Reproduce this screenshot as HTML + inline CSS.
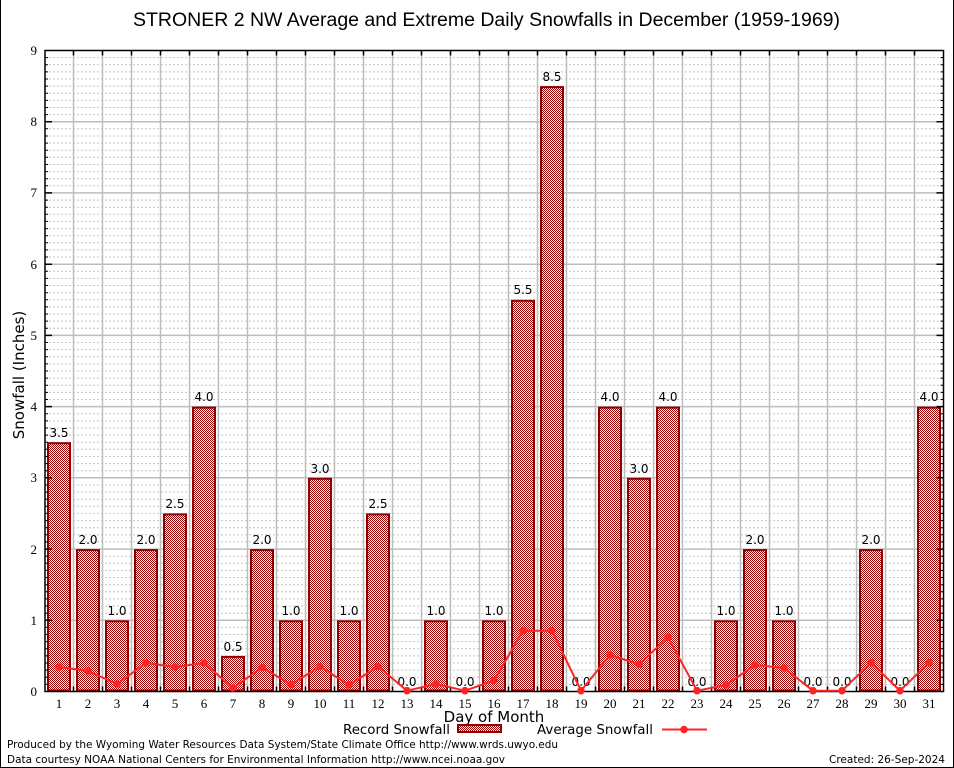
<!DOCTYPE html>
<html>
<head>
<meta charset="utf-8">
<style>
html,body{margin:0;padding:0;background:#fff;}
svg{display:block;}
.tk{font-family:"Liberation Serif",serif;font-size:13px;fill:#000;}
.vl{font-family:"DejaVu Sans","Liberation Sans",sans-serif;font-size:12px;fill:#000;text-anchor:middle;}
.sn{font-family:"DejaVu Sans","Liberation Sans",sans-serif;fill:#000;}
</style>
</head>
<body>
<svg width="954" height="768" viewBox="0 0 954 768" xmlns="http://www.w3.org/2000/svg">
<defs>
<pattern id="chk" width="2" height="2" patternUnits="userSpaceOnUse">
<rect width="2" height="2" fill="#ffffff"/>
<rect x="0" y="0" width="1" height="1" fill="#9c0000"/>
<rect x="1" y="1" width="1" height="1" fill="#9c0000"/>
</pattern>
</defs>
<rect width="954" height="768" fill="#fff"/>
<path d="M0.5 0 V767.5 H953.5 V0" fill="none" stroke="#000" stroke-width="1"/>

<text x="133" y="26" font-family="Liberation Sans, sans-serif" font-size="19" textLength="707" lengthAdjust="spacingAndGlyphs">STRONER 2 NW Average and Extreme Daily Snowfalls in December (1959-1969)</text>

<path fill="none" stroke="#c4c4c4" stroke-width="1" stroke-dasharray="2,2" d="
M45 684.4H943 M45 677.3H943 M45 670.1H943 M45 663.0H943 M45 655.9H943 M45 648.8H943 M45 641.6H943 M45 634.5H943 M45 627.4H943
M45 613.2H943 M45 606.0H943 M45 598.9H943 M45 591.8H943 M45 584.7H943 M45 577.5H943 M45 570.4H943 M45 563.3H943 M45 556.2H943
M45 541.9H943 M45 534.8H943 M45 527.7H943 M45 520.6H943 M45 513.4H943 M45 506.3H943 M45 499.2H943 M45 492.1H943 M45 485.0H943
M45 470.7H943 M45 463.6H943 M45 456.5H943 M45 449.3H943 M45 442.2H943 M45 435.1H943 M45 428.0H943 M45 420.9H943 M45 413.7H943
M45 399.5H943 M45 392.4H943 M45 385.2H943 M45 378.1H943 M45 371.0H943 M45 363.9H943 M45 356.8H943 M45 349.6H943 M45 342.5H943
M45 328.3H943 M45 321.1H943 M45 314.0H943 M45 306.9H943 M45 299.8H943 M45 292.7H943 M45 285.5H943 M45 278.4H943 M45 271.3H943
M45 257.0H943 M45 249.9H943 M45 242.8H943 M45 235.7H943 M45 228.6H943 M45 221.4H943 M45 214.3H943 M45 207.2H943 M45 200.1H943
M45 185.8H943 M45 178.7H943 M45 171.6H943 M45 164.5H943 M45 157.3H943 M45 150.2H943 M45 143.1H943 M45 136.0H943 M45 128.8H943
M45 114.6H943 M45 107.5H943 M45 100.4H943 M45 93.2H943 M45 86.1H943 M45 79.0H943 M45 71.9H943 M45 64.7H943 M45 57.6H943"/>

<path fill="none" stroke="#bdbdbd" stroke-width="1.5" d="
M45 620.3H943 M45 549.1H943 M45 477.8H943 M45 406.6H943 M45 335.4H943 M45 264.2H943 M45 192.9H943 M45 121.7H943"/>

<path fill="none" stroke="#bdbdbd" stroke-width="1.5" d="
M73.5 50.5V691.5 M102.5 50.5V691.5 M131.5 50.5V691.5 M160.5 50.5V691.5 M189.5 50.5V691.5 M218.5 50.5V691.5
M247.5 50.5V691.5 M276.5 50.5V691.5 M305.5 50.5V691.5 M334.5 50.5V691.5 M363.5 50.5V691.5 M392.5 50.5V691.5
M421.5 50.5V691.5 M450.5 50.5V691.5 M479.5 50.5V691.5 M508.5 50.5V691.5 M537.5 50.5V691.5 M566.5 50.5V691.5
M595.5 50.5V691.5 M624.5 50.5V691.5 M653.5 50.5V691.5 M682.5 50.5V691.5 M711.5 50.5V691.5 M740.5 50.5V691.5
M769.5 50.5V691.5 M798.5 50.5V691.5 M827.5 50.5V691.5 M856.5 50.5V691.5 M885.5 50.5V691.5 M914.5 50.5V691.5"/>

<g fill="url(#chk)" stroke="#900000" stroke-width="2">
<rect x="48" y="443.2" width="22" height="247.3"/>
<rect x="77" y="550.1" width="22" height="140.4"/>
<rect x="106" y="621.3" width="22" height="69.2"/>
<rect x="135" y="550.1" width="22" height="140.4"/>
<rect x="164" y="514.4" width="22" height="176.1"/>
<rect x="193" y="407.6" width="22" height="282.9"/>
<rect x="222" y="656.9" width="22" height="33.6"/>
<rect x="251" y="550.1" width="22" height="140.4"/>
<rect x="280" y="621.3" width="22" height="69.2"/>
<rect x="309" y="478.8" width="22" height="211.7"/>
<rect x="338" y="621.3" width="22" height="69.2"/>
<rect x="367" y="514.4" width="22" height="176.1"/>
<rect x="425" y="621.3" width="22" height="69.2"/>
<rect x="483" y="621.3" width="22" height="69.2"/>
<rect x="512" y="300.8" width="22" height="389.7"/>
<rect x="541" y="87.1" width="22" height="603.4"/>
<rect x="599" y="407.6" width="22" height="282.9"/>
<rect x="628" y="478.8" width="22" height="211.7"/>
<rect x="657" y="407.6" width="22" height="282.9"/>
<rect x="715" y="621.3" width="22" height="69.2"/>
<rect x="744" y="550.1" width="22" height="140.4"/>
<rect x="773" y="621.3" width="22" height="69.2"/>
<rect x="860" y="550.1" width="22" height="140.4"/>
<rect x="918" y="407.6" width="22" height="282.9"/>
</g>

<g class="vl">
<text x="59" y="437">3.5</text>
<text x="88" y="544">2.0</text>
<text x="117" y="615">1.0</text>
<text x="146" y="544">2.0</text>
<text x="175" y="508">2.5</text>
<text x="204" y="401">4.0</text>
<text x="233" y="651">0.5</text>
<text x="262" y="544">2.0</text>
<text x="291" y="615">1.0</text>
<text x="320" y="473">3.0</text>
<text x="349" y="615">1.0</text>
<text x="378" y="508">2.5</text>
<text x="407" y="686">0.0</text>
<text x="436" y="615">1.0</text>
<text x="465" y="686">0.0</text>
<text x="494" y="615">1.0</text>
<text x="523" y="294">5.5</text>
<text x="552" y="81">8.5</text>
<text x="581" y="686">0.0</text>
<text x="610" y="401">4.0</text>
<text x="639" y="473">3.0</text>
<text x="668" y="401">4.0</text>
<text x="697" y="686">0.0</text>
<text x="726" y="615">1.0</text>
<text x="755" y="544">2.0</text>
<text x="784" y="615">1.0</text>
<text x="813" y="686">0.0</text>
<text x="842" y="686">0.0</text>
<text x="871" y="544">2.0</text>
<text x="900" y="686">0.0</text>
<text x="929" y="401">4.0</text>
</g>

<rect x="45" y="50.5" width="898.5" height="641" fill="none" stroke="#000" stroke-width="1.5"/>

<path fill="none" stroke="#000" stroke-width="1" d="
M45 684.4h3 M45 677.3h3 M45 670.1h3 M45 663.0h3 M45 655.9h3 M45 648.8h3 M45 641.6h3 M45 634.5h3 M45 627.4h3
M45 613.2h3 M45 606.0h3 M45 598.9h3 M45 591.8h3 M45 584.7h3 M45 577.5h3 M45 570.4h3 M45 563.3h3 M45 556.2h3
M45 541.9h3 M45 534.8h3 M45 527.7h3 M45 520.6h3 M45 513.4h3 M45 506.3h3 M45 499.2h3 M45 492.1h3 M45 485.0h3
M45 470.7h3 M45 463.6h3 M45 456.5h3 M45 449.3h3 M45 442.2h3 M45 435.1h3 M45 428.0h3 M45 420.9h3 M45 413.7h3
M45 399.5h3 M45 392.4h3 M45 385.2h3 M45 378.1h3 M45 371.0h3 M45 363.9h3 M45 356.8h3 M45 349.6h3 M45 342.5h3
M45 328.3h3 M45 321.1h3 M45 314.0h3 M45 306.9h3 M45 299.8h3 M45 292.7h3 M45 285.5h3 M45 278.4h3 M45 271.3h3
M45 257.0h3 M45 249.9h3 M45 242.8h3 M45 235.7h3 M45 228.6h3 M45 221.4h3 M45 214.3h3 M45 207.2h3 M45 200.1h3
M45 185.8h3 M45 178.7h3 M45 171.6h3 M45 164.5h3 M45 157.3h3 M45 150.2h3 M45 143.1h3 M45 136.0h3 M45 128.8h3
M45 114.6h3 M45 107.5h3 M45 100.4h3 M45 93.2h3 M45 86.1h3 M45 79.0h3 M45 71.9h3 M45 64.7h3 M45 57.6h3
M943.5 684.4h-3 M943.5 677.3h-3 M943.5 670.1h-3 M943.5 663.0h-3 M943.5 655.9h-3 M943.5 648.8h-3 M943.5 641.6h-3 M943.5 634.5h-3 M943.5 627.4h-3
M943.5 613.2h-3 M943.5 606.0h-3 M943.5 598.9h-3 M943.5 591.8h-3 M943.5 584.7h-3 M943.5 577.5h-3 M943.5 570.4h-3 M943.5 563.3h-3 M943.5 556.2h-3
M943.5 541.9h-3 M943.5 534.8h-3 M943.5 527.7h-3 M943.5 520.6h-3 M943.5 513.4h-3 M943.5 506.3h-3 M943.5 499.2h-3 M943.5 492.1h-3 M943.5 485.0h-3
M943.5 470.7h-3 M943.5 463.6h-3 M943.5 456.5h-3 M943.5 449.3h-3 M943.5 442.2h-3 M943.5 435.1h-3 M943.5 428.0h-3 M943.5 420.9h-3 M943.5 413.7h-3
M943.5 399.5h-3 M943.5 392.4h-3 M943.5 385.2h-3 M943.5 378.1h-3 M943.5 371.0h-3 M943.5 363.9h-3 M943.5 356.8h-3 M943.5 349.6h-3 M943.5 342.5h-3
M943.5 328.3h-3 M943.5 321.1h-3 M943.5 314.0h-3 M943.5 306.9h-3 M943.5 299.8h-3 M943.5 292.7h-3 M943.5 285.5h-3 M943.5 278.4h-3 M943.5 271.3h-3
M943.5 257.0h-3 M943.5 249.9h-3 M943.5 242.8h-3 M943.5 235.7h-3 M943.5 228.6h-3 M943.5 221.4h-3 M943.5 214.3h-3 M943.5 207.2h-3 M943.5 200.1h-3
M943.5 185.8h-3 M943.5 178.7h-3 M943.5 171.6h-3 M943.5 164.5h-3 M943.5 157.3h-3 M943.5 150.2h-3 M943.5 143.1h-3 M943.5 136.0h-3 M943.5 128.8h-3
M943.5 114.6h-3 M943.5 107.5h-3 M943.5 100.4h-3 M943.5 93.2h-3 M943.5 86.1h-3 M943.5 79.0h-3 M943.5 71.9h-3 M943.5 64.7h-3 M943.5 57.6h-3"/>
<path fill="none" stroke="#000" stroke-width="1.5" d="
M45 620.3h7 M45 549.1h7 M45 477.8h7 M45 406.6h7 M45 335.4h7 M45 264.2h7 M45 192.9h7 M45 121.7h7
M943.5 620.3h-7 M943.5 549.1h-7 M943.5 477.8h-7 M943.5 406.6h-7 M943.5 335.4h-7 M943.5 264.2h-7 M943.5 192.9h-7 M943.5 121.7h-7"/>
<path fill="none" stroke="#000" stroke-width="1.5" d="
M73.5 50.5v5 M102.5 50.5v5 M131.5 50.5v5 M160.5 50.5v5 M189.5 50.5v5 M218.5 50.5v5 M247.5 50.5v5 M276.5 50.5v5 M305.5 50.5v5 M334.5 50.5v5
M363.5 50.5v5 M392.5 50.5v5 M421.5 50.5v5 M450.5 50.5v5 M479.5 50.5v5 M508.5 50.5v5 M537.5 50.5v5 M566.5 50.5v5 M595.5 50.5v5 M624.5 50.5v5
M653.5 50.5v5 M682.5 50.5v5 M711.5 50.5v5 M740.5 50.5v5 M769.5 50.5v5 M798.5 50.5v5 M827.5 50.5v5 M856.5 50.5v5 M885.5 50.5v5 M914.5 50.5v5
M73.5 691.5v-5 M102.5 691.5v-5 M131.5 691.5v-5 M160.5 691.5v-5 M189.5 691.5v-5 M218.5 691.5v-5 M247.5 691.5v-5 M276.5 691.5v-5 M305.5 691.5v-5 M334.5 691.5v-5
M363.5 691.5v-5 M392.5 691.5v-5 M421.5 691.5v-5 M450.5 691.5v-5 M479.5 691.5v-5 M508.5 691.5v-5 M537.5 691.5v-5 M566.5 691.5v-5 M595.5 691.5v-5 M624.5 691.5v-5
M653.5 691.5v-5 M682.5 691.5v-5 M711.5 691.5v-5 M740.5 691.5v-5 M769.5 691.5v-5 M798.5 691.5v-5 M827.5 691.5v-5 M856.5 691.5v-5 M885.5 691.5v-5 M914.5 691.5v-5"/>

<polyline fill="none" stroke="#ff2424" stroke-width="2" stroke-linejoin="round" points="
59,667 88,671 117,684 146,663 175,667 204,663 233,688 262,667.5 291,684.5 320,666.5 349,685 378,666.5 407,690.7 436,684 465,690.7 494,680.5 523,630.7 552,630.7 581,690.7 610,655 639,664.3 668,637.3 697,690.7 726,685 755,665 784,668 813,690.7 842,690.7 871,662.7 900,690.7 929,662.7"/>
<g fill="#ff2424">
<circle cx="59" cy="667" r="3.8"/><circle cx="88" cy="671" r="3.8"/><circle cx="117" cy="684" r="3.8"/><circle cx="146" cy="663" r="3.8"/>
<circle cx="175" cy="667" r="3.8"/><circle cx="204" cy="663" r="3.8"/><circle cx="233" cy="688" r="3.8"/><circle cx="262" cy="667.5" r="3.8"/>
<circle cx="291" cy="684.5" r="3.8"/><circle cx="320" cy="666.5" r="3.8"/><circle cx="349" cy="685" r="3.8"/><circle cx="378" cy="666.5" r="3.8"/>
<circle cx="407" cy="690.7" r="3.8"/><circle cx="436" cy="684" r="3.8"/><circle cx="465" cy="690.7" r="3.8"/><circle cx="494" cy="680.5" r="3.8"/>
<circle cx="523" cy="630.7" r="3.8"/><circle cx="552" cy="630.7" r="3.8"/><circle cx="581" cy="690.7" r="3.8"/><circle cx="610" cy="655" r="3.8"/>
<circle cx="639" cy="664.3" r="3.8"/><circle cx="668" cy="637.3" r="3.8"/><circle cx="697" cy="690.7" r="3.8"/><circle cx="726" cy="685" r="3.8"/>
<circle cx="755" cy="665" r="3.8"/><circle cx="784" cy="668" r="3.8"/><circle cx="813" cy="690.7" r="3.8"/><circle cx="842" cy="690.7" r="3.8"/>
<circle cx="871" cy="662.7" r="3.8"/><circle cx="900" cy="690.7" r="3.8"/><circle cx="929" cy="662.7" r="3.8"/>
</g>

<g class="tk" text-anchor="end">
<text x="37" y="696">0</text>
<text x="37" y="625">1</text>
<text x="37" y="554">2</text>
<text x="37" y="482">3</text>
<text x="37" y="411">4</text>
<text x="37" y="340">5</text>
<text x="37" y="269">6</text>
<text x="37" y="197">7</text>
<text x="37" y="126">8</text>
<text x="37" y="55">9</text>
</g>
<g class="tk" text-anchor="middle">
<text x="59" y="708">1</text><text x="88" y="708">2</text><text x="117" y="708">3</text><text x="146" y="708">4</text>
<text x="175" y="708">5</text><text x="204" y="708">6</text><text x="233" y="708">7</text><text x="262" y="708">8</text>
<text x="291" y="708">9</text><text x="320" y="708">10</text><text x="349" y="708">11</text><text x="378" y="708">12</text>
<text x="407" y="708">13</text><text x="436" y="708">14</text><text x="465" y="708">15</text><text x="494" y="708">16</text>
<text x="523" y="708">17</text><text x="552" y="708">18</text><text x="581" y="708">19</text><text x="610" y="708">20</text>
<text x="639" y="708">21</text><text x="668" y="708">22</text><text x="697" y="708">23</text><text x="726" y="708">24</text>
<text x="755" y="708">25</text><text x="784" y="708">26</text><text x="813" y="708">27</text><text x="842" y="708">28</text>
<text x="871" y="708">29</text><text x="900" y="708">30</text><text x="929" y="708">31</text>
</g>

<text class="sn" x="0" y="0" font-size="15" text-anchor="middle" transform="translate(24,375) rotate(-90)">Snowfall (Inches)</text>
<text class="sn" x="494" y="722" font-size="15" text-anchor="middle">Day of Month</text>

<text class="sn" x="343" y="734" font-size="13" textLength="107" lengthAdjust="spacingAndGlyphs">Record Snowfall</text>
<rect x="458" y="725" width="43" height="7" fill="url(#chk)" stroke="#900000" stroke-width="2"/>
<text class="sn" x="537" y="734" font-size="13" textLength="116" lengthAdjust="spacingAndGlyphs">Average Snowfall</text>
<line x1="662" y1="729.5" x2="707" y2="729.5" stroke="#ff2424" stroke-width="2"/>
<circle cx="684" cy="729.5" r="3.8" fill="#ff2424"/>

<text class="sn" x="7" y="748" font-size="11" textLength="551" lengthAdjust="spacingAndGlyphs">Produced by the Wyoming Water Resources Data System/State Climate Office http://www.wrds.uwyo.edu</text>
<text class="sn" x="7" y="763" font-size="11" textLength="498" lengthAdjust="spacingAndGlyphs">Data courtesy NOAA National Centers for Environmental Information http://www.ncei.noaa.gov</text>
<text class="sn" x="829" y="763" font-size="11" textLength="116" lengthAdjust="spacingAndGlyphs">Created: 26-Sep-2024</text>
</svg>
</body>
</html>
